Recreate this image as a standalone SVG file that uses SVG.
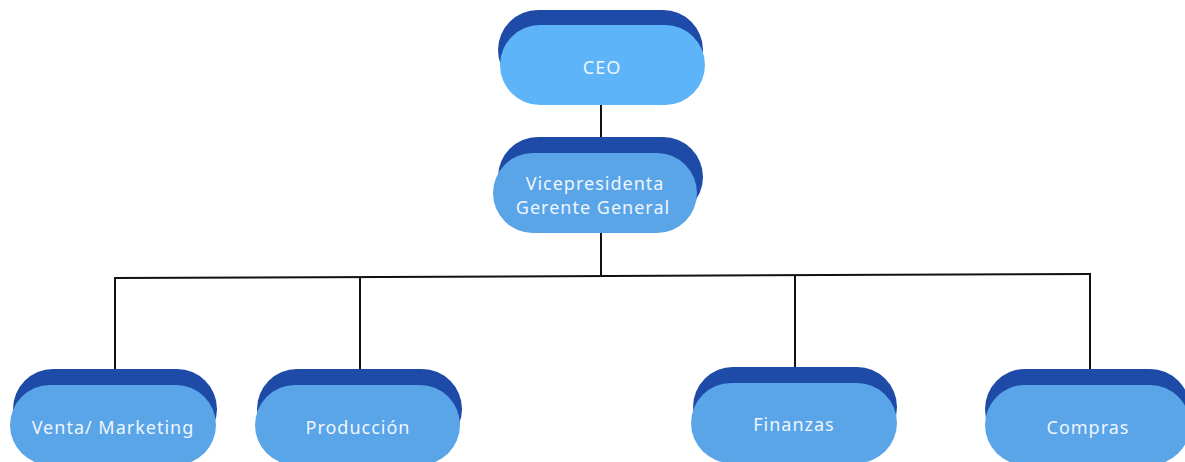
<svg xmlns="http://www.w3.org/2000/svg" width="1185" height="462" viewBox="0 0 1185 462">
<style>
.back{fill:#1E4AA8}
.front{fill:#5AA4E8}
.ceo{fill:#5DB4F9}
.lbl{font-family:"Noto Sans","IBM Plex Sans",sans-serif;font-size:18px;letter-spacing:1px;fill:#EEF6FF;text-anchor:middle;dominant-baseline:central}
.con{stroke:#111;stroke-width:2;fill:none}
</style>
<rect width="1185" height="462" fill="#fff"/>
<g id="connectors">
<line class="con" x1="601" y1="104" x2="601" y2="138"/>
<line class="con" x1="601" y1="232" x2="601" y2="277"/>
<line class="con" x1="114" y1="278" x2="1091" y2="274"/>
<line class="con" x1="115" y1="278" x2="115" y2="370"/>
<line class="con" x1="360" y1="277" x2="360" y2="370"/>
<line class="con" x1="795" y1="276" x2="795" y2="368"/>
<line class="con" x1="1090" y1="274" x2="1090" y2="370"/>
</g>
<g id="ceo">
<rect class="back" x="498" y="10" width="205" height="80" rx="40"/>
<rect class="ceo" x="500" y="25" width="205" height="80" rx="40"/>
<text class="lbl" x="602" y="67">CEO</text>
</g>
<g id="vp">
<rect class="back" x="498" y="137" width="205" height="80" rx="40"/>
<rect class="front" x="493" y="153" width="204" height="80" rx="40"/>
<text class="lbl" x="595" y="183">Vicepresidenta</text>
<text class="lbl" x="593" y="207">Gerente General</text>
</g>
<g id="venta">
<rect class="back" x="13" y="369" width="204" height="80" rx="40"/>
<rect class="front" x="10" y="385" width="206" height="80" rx="40"/>
<text class="lbl" x="113" y="427">Venta/ Marketing</text>
</g>
<g id="produccion">
<rect class="back" x="257" y="369" width="205" height="80" rx="40"/>
<rect class="front" x="255" y="385" width="205" height="80" rx="40"/>
<text class="lbl" x="358" y="427">Producción</text>
</g>
<g id="finanzas">
<rect class="back" x="693" y="367" width="204" height="80" rx="40"/>
<rect class="front" x="691" y="383" width="206" height="80" rx="40"/>
<text class="lbl" x="794" y="424">Finanzas</text>
</g>
<g id="compras">
<rect class="back" x="985" y="369" width="205" height="80" rx="40"/>
<rect class="front" x="985" y="385" width="205" height="80" rx="40"/>
<text class="lbl" x="1088" y="427">Compras</text>
</g>
</svg>
